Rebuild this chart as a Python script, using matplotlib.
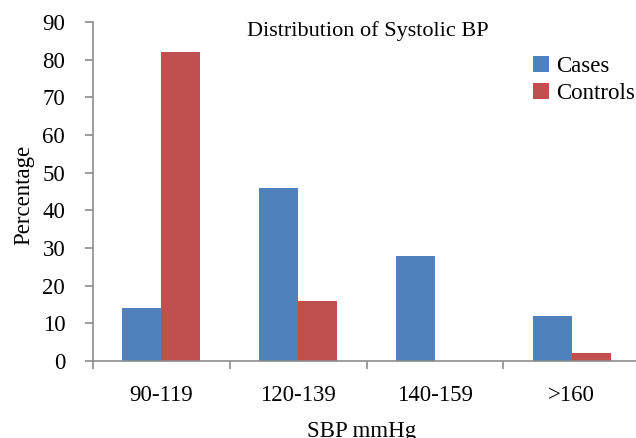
import matplotlib

matplotlib.use("Agg")
import matplotlib.pyplot as plt
import numpy as np

categories = ["90-119", "120-139", "140-159", ">160"]
cases = [14, 46, 28, 12]
controls = [82, 16, 0, 2]

plt.rcParams["font.family"] = ["Liberation Serif", "DejaVu Serif"]

fig = plt.figure(figsize=(6.36, 4.38), dpi=100)
ax = fig.add_axes([93 / 636, 77 / 438, 547 / 636, 339 / 438])

x = np.arange(len(categories))
w = 0.285
ax.bar(x - w / 2, cases, w, color="#4F81BD", label="Cases")
ax.bar(x + w / 2, controls, w, color="#C0504D", label="Controls")

ax.set_xlim(-0.5, len(categories) - 0.5)
ax.set_ylim(0, 90)
ax.set_yticks(range(0, 91, 10))
ax.set_xticks(np.arange(-0.5, len(categories), 1.0))
ax.set_xticklabels([])
ax.set_xticks(x, minor=True)
ax.set_xticklabels(categories, minor=True)

for s in ["top", "right"]:
    ax.spines[s].set_visible(False)
for s in ["left", "bottom"]:
    ax.spines[s].set_color("#8c8c8c")
    ax.spines[s].set_linewidth(1.2)

ax.tick_params(axis="y", direction="out", length=6, width=1.2, color="#8c8c8c",
               labelsize=16.5, pad=14)
ax.tick_params(axis="x", which="major", direction="out", length=6, width=1.2,
               color="#8c8c8c")
ax.tick_params(axis="x", which="minor", length=0, labelsize=16.5, pad=17)

ax.text(0.503, 0.973, "Distribution of Systolic BP", transform=ax.transAxes,
        ha="center", va="center", fontsize=16)

fig.text(24 / 636, 1 - 195 / 438, "Percentage", rotation=90, ha="center",
         va="center", fontsize=16.5)
fig.text(362 / 636, 1 - 437 / 438, "SBP mmHg", ha="center", va="baseline",
         fontsize=16.5)

ax.legend(loc="upper left", bbox_to_anchor=(533 / 636, 1 - 56 / 438),
          bbox_transform=fig.transFigure, frameon=False, fontsize=16.5,
          handlelength=0.7, handleheight=0.7, handletextpad=0.3,
          labelspacing=0.25, borderpad=0, borderaxespad=0)

fig.savefig("out.png", dpi=100)
